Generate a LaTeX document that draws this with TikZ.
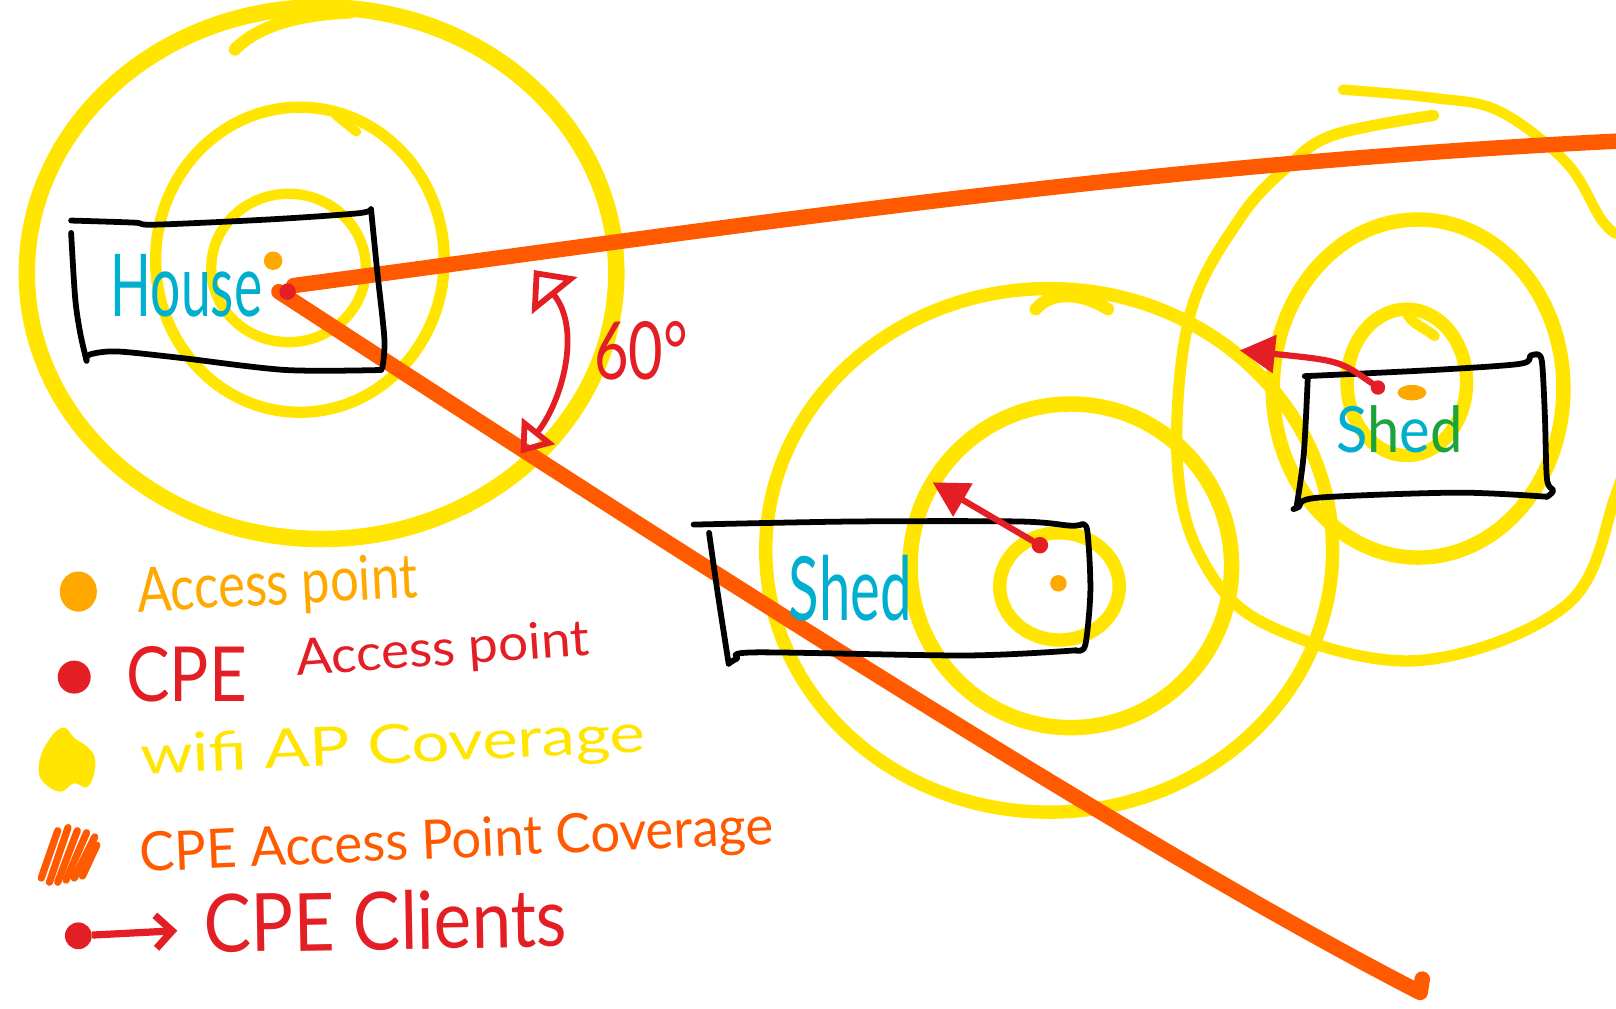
\documentclass[tikz,border=0pt]{standalone}
\usepackage{fontspec}
\setmainfont{Lato}
\usetikzlibrary{arrows.meta,shapes.geometric}
\definecolor{ringY}{HTML}{FFE500}
\definecolor{beamO}{HTML}{FF5A00}
\definecolor{apO}{HTML}{FFA800}
\definecolor{cpeR}{HTML}{E31E24}
\definecolor{labC}{HTML}{00AECF}
\definecolor{labG}{HTML}{1BA33C}
\newlength\pxu \setlength\pxu{0.5pt}
\newcommand\hw[3]{\resizebox*{#1\pxu}{#2\pxu}{#3}}
\pgfdeclarelayer{back}
\pgfdeclarelayer{mid}
\pgfsetlayers{back,mid,main}
\begin{document}
\begin{tikzpicture}[x=0.5pt,y=-0.5pt,
  ring/.style={draw=ringY, line cap=round, line join=round},
  beam/.style={draw=beamO, line width=7.5pt, line cap=round, line join=round},
  wall/.style={draw=black, line width=2.8pt, line cap=round, line join=round},
  apdot/.style={circle, fill=apO, draw=none, inner sep=0pt, minimum size=9pt},
  cpedot/.style={circle, fill=cpeR, draw=none, inner sep=0pt, minimum size=8pt},
  client/.style={draw=cpeR, line width=3pt, line cap=round, -{Triangle[length=17pt,width=18pt]}},
  anglearc/.style={draw=cpeR, line width=2.8pt, {Triangle[open,length=14pt,width=20pt]}-{Triangle[open,length=16pt,width=28pt]}},
  lbl/.style={inner sep=0pt, text=labC}]
\useasboundingbox (0,0) rectangle (1568,979);
\clip (0,0) rectangle (1568,979);

% ---------------- coverage rings ----------------
\begin{pgfonlayer}{back}
% House
\draw[ring, line width=8pt] (312,265) ellipse [x radius=143pt, y radius=129pt];
\draw[ring, line width=6pt] (228,48) .. controls (250,25) and (290,14) .. (340,12);
\draw[ring, line width=5.5pt] (291,252) ellipse [x radius=70pt, y radius=74pt];
\draw[ring, line width=4.5pt] (326,112) -- (346,128);
\draw[ring, line width=5pt] (280,260) ellipse [x radius=37.5pt, y radius=36pt];
% Shed 1
\draw[ring, line width=6.5pt] (1018,534) ellipse [x radius=137.5pt, y radius=127pt];
\draw[ring, line width=6pt] (1005,300) .. controls (1020,282) and (1050,284) .. (1075,300);
\draw[ring, line width=7.5pt] (1039,549) ellipse [x radius=78pt, y radius=78.5pt];
\draw[ring, line width=6.5pt] (1028,569) ellipse [x radius=29pt, y radius=26pt];
% Shed 2
\draw[ring, line width=5.5pt] plot[smooth, tension=0.6] coordinates {(1391,112) (1294,131) (1249,162) (1203,212) (1155,304) (1142,441) (1164,538) (1229,606) (1375,641) (1520,587) (1568,480) (1590,400)};
\draw[ring, line width=5pt] plot[smooth, tension=0.6] coordinates {(1303,87) (1391,95) (1455,108) (1520,158) (1553,212) (1568,227)};
\draw[ring, line width=7pt] (1376,377) ellipse [x radius=70.5pt, y radius=82pt];
\draw[ring, line width=6.5pt] (1365,371) ellipse [x radius=29pt, y radius=35.5pt];
\draw[ring, line width=5pt] (1366,306) .. controls (1372,315) and (1382,318) .. (1392,326);
\end{pgfonlayer}

% ---------------- buildings ----------------
\draw[wall] plot[smooth, tension=0.5] coordinates {(69,214) (130,216) (150,218) (260,213) (347,207) (360,203)};
\draw[wall] plot[smooth, tension=0.5] coordinates {(360,203) (366,263) (373,329) (371,357)};
\draw[wall] plot[smooth, tension=0.5] coordinates {(370,359) (277,359) (173,347) (113,341) (87,344) (84,350)};
\draw[wall] plot[smooth, tension=0.5] coordinates {(69,226) (73,290) (78,324) (84,350)};

\draw[wall] plot[smooth, tension=0.5] coordinates {(673,509) (827,506) (989,506) (1038,510) (1049,509)};
\draw[wall] plot[smooth, tension=0.5] coordinates {(1049,509) (1055,515) (1058,573) (1053,626) (1044,631)};
\draw[wall] plot[smooth, tension=0.5] coordinates {(1044,631) (938,636) (733,633) (715,639) (707,644)};
\draw[wall] plot[smooth, tension=0.5] coordinates {(688,517) (696,573) (707,644)};

\draw[wall] plot[smooth, tension=0.5] coordinates {(1266,365) (1391,359) (1475,353) (1485,345) (1490,344)};
\draw[wall] plot[smooth, tension=0.5] coordinates {(1490,344) (1496,350) (1499,404) (1501,465) (1507,476) (1501,482)};
\draw[wall] plot[smooth, tension=0.5] coordinates {(1501,482) (1414,478) (1278,483) (1260,492) (1255,494)};
\draw[wall] plot[smooth, tension=0.5] coordinates {(1269,365) (1265,441) (1258,492)};

% ---------------- access points ----------------
\node[apdot] (hap) at (265,253) {};
\node[cpedot] (hcpe) at (279,283) {};
\node[cpedot] (s1cpe) at (1009,529) {};
\node[apdot, minimum size=8pt] (s1ap) at (1027,566) {};
\node[cpedot, minimum size=7pt] (s2cpe) at (1337,376) {};
\node[ellipse, fill=apO, inner sep=0pt, minimum width=14pt, minimum height=7.5pt] (s2ap) at (1370,381) {};

% ---------------- CPE coverage beams ----------------
\coordinate (beamA) at (1568,137);
\coordinate (beamB) at (1378,963);
\coordinate (beamBh) at (1380,950);
\begin{pgfonlayer}{mid}
\draw[beam] (hcpe.north east) .. controls (700,222) and (1100,160) .. (beamA);
\draw[beam] (hcpe.west) .. controls (650,530) and (1100,820) .. (beamB) -- (beamBh);
\end{pgfonlayer}

% ---------------- clients ----------------
\coordinate (s1tip) at (905,468);
\coordinate (s2tip) at (1203,340);
\draw[client] (s1cpe) -- (s1tip);
\draw[client] (s2cpe) .. controls (1300,350) .. (s2tip);

% ---------------- 60 degree angle ----------------
\coordinate (angA) at (505,440);
\coordinate (angB) at (518,262);
\draw[anglearc] (angA) .. controls (545,390) and (565,320) .. (angB);
\node[inner sep=0pt, text=cpeR] (ang) at (622,340) {\hw{91}{57}{60°}};

% ---------------- labels ----------------
\node[lbl] (house) at (181,277) {\hw{147}{61}{House}};
\node[lbl] (shedA) at (825,571) {\hw{119}{64}{Shed}};
\node[lbl] (shedB) at (1358,417) {\hw{123}{46}{S\textcolor{labG}{h}e\textcolor{labG}{d}}};

% ---------------- legend ----------------
\node[ellipse, fill=apO, inner sep=0pt, minimum width=18pt, minimum height=19.5pt] (legAP) at (76,574) {};
\node[inner sep=0pt, text=apO, rotate=3] (tAP) at (269,570) {\hw{272}{54}{Access point}};

\node[cpedot, minimum size=16pt] (legCPE) at (72,657) {};
\node[inner sep=0pt, text=cpeR] (tCPE1) at (181,654) {\hw{117}{54}{CPE}};
\node[inner sep=0pt, text=cpeR, rotate=4] (tCPE2) at (430,632) {\hw{285}{44}{Access point}};

\fill[ringY] plot[smooth cycle, tension=0.6] coordinates {(52,712) (63,706) (72,716) (84,724) (92,735) (91,752) (84,764) (72,760) (60,768) (48,764) (38,752) (40,732)};
\node[inner sep=0pt, text=ringY, rotate=2.5] (tWifi) at (381,726) {\hw{490}{48}{wifi AP Coverage}};

\foreach \a/\b/\c/\d in {40/852/56/806, 48/856/66/803, 56/856/75/806, 64/854/84/808, 72/852/92/812, 80/850/94/820}
  \draw[beamO, line width=3.5pt, line cap=round] (\a,\b) -- (\c,\d);
\node[inner sep=0pt, text=beamO, rotate=2.5] (tCov) at (443,818) {\hw{615}{48}{CPE Access Point Coverage}};

\node[cpedot, minimum size=13pt] (legCl) at (76,908) {};
\coordinate (legClEnd) at (172,903);
\draw[cpeR, line width=3.5pt, -{Straight Barb[length=8pt,width=16pt]}] (legCl) -- (legClEnd);
\node[inner sep=0pt, text=cpeR, rotate=1] (tCl) at (374,893) {\hw{352}{58}{CPE Clients}};
\end{tikzpicture}
\end{document}
